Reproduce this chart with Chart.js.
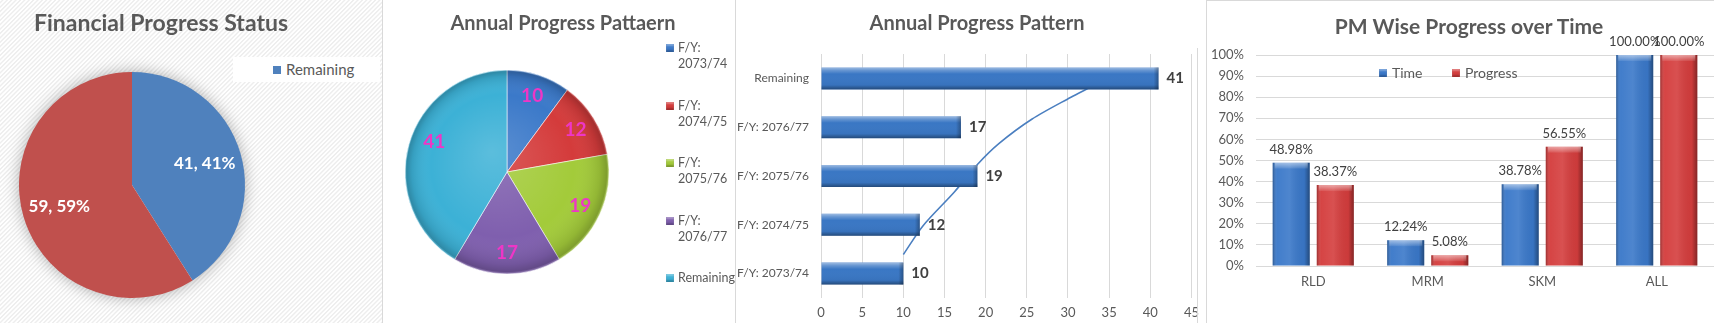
<!DOCTYPE html>
<html>
<head>
<meta charset="utf-8">
<title>Progress Dashboard</title>
<script src="https://cdn.jsdelivr.net/npm/chart.js@4.4.1/dist/chart.umd.min.js"></script>
<style>
  body { margin: 0; width: 1714px; height: 323px; overflow: hidden; background: #fff; font-family: Lato, "Open Sans", sans-serif; position: relative; }
  .panel { position: absolute; top: 0; height: 323px; }
  #p1 { left: 0; width: 382px; border-right: 1px solid #d9d9d9;
        background: repeating-linear-gradient(135deg, #ffffff 0px, #ffffff 1px, #eeeeee 1.6px, #eeeeee 2.4px, #ffffff 3.1px); }
  #p2 { left: 383px; width: 352px; border-right: 1px solid #d9d9d9; }
  #p3 { left: 736px; width: 470px; }
  #p4 { left: 1206px; width: 508px; border-left: 1px solid #d9d9d9; border-top: 1px solid #d9d9d9; height: 322px; }
  #p3line { position: absolute; left: 1197px; top: 48px; width: 1px; height: 275px; background: #d9d9d9; }
  canvas { position: absolute; left: 0; top: 0; }
  .title { position: absolute; font-weight: bold; color: #595959; white-space: nowrap; transform: translateX(-50%); line-height: 1; }
  .legend { position: absolute; color: #595959; font-size: 12.5px; }
  .sw { display: inline-block; width: 8px; height: 8px; margin-right: 5px; vertical-align: middle; position: relative; top: -1px; }
</style>
</head>
<body>

<div class="panel" id="p1">
  <canvas id="finChart" width="382" height="323"></canvas>
  <div class="title" style="left:161px; top:11px; font-size:23px;">Financial Progress Status</div>
  <div class="legend" id="finLegend" style="left:233px; top:57px; width:147px; height:25px; background:#fff; font-size:15px;"></div>
</div>

<div class="panel" id="p2">
  <canvas id="annualPie" width="352" height="323"></canvas>
  <div class="title" style="left:180px; top:12px; font-size:20px;">Annual Progress Pattaern</div>
  <div id="annualLegend"></div>
</div>

<div class="panel" id="p3">
  <canvas id="annualBar" width="470" height="323"></canvas>
  <div class="title" style="left:241px; top:12px; font-size:20px;">Annual Progress Pattern</div>
</div>
<div id="p3line"></div>

<div class="panel" id="p4">
  <canvas id="pmChart" width="508" height="322"></canvas>
  <div class="title" style="left:262px; top:14px; font-size:21px;">PM Wise Progress over Time</div>
  <div id="pmLegend"></div>
</div>

<script>
// financial status pie
const finLabels = ['Remaining', 'Spent'];
const finValues = [41, 59];
const finColors = ['#4f81bd', '#c0504d'];

// annual pattern (pie and bar)
const annualLabels = ['F/Y: 2073/74', 'F/Y: 2074/75', 'F/Y: 2075/76', 'F/Y: 2076/77', 'Remaining'];
const annualValues = [10, 12, 19, 17, 41];
const annualColors = ['#3b79c9', '#d43b3b', '#a3cb3a', '#7f5fae', '#3cb1d6'];

// trend curve over the bar chart: x value and row position (0 = bottom row)
const trendX = [10, 12.4, 16.2, 19, 21.6, 25.6, 30.3, 32.7];
const trendRow = [0.23, 0.88, 1.64, 2.26, 2.73, 3.28, 3.77, 4.0];

// PM wise progress, in percent
const pmLabels = ['RLD', 'MRM', 'SKM', 'ALL'];
const timeValues = [48.98, 12.24, 38.78, 100];
const progressValues = [38.37, 5.08, 56.55, 100];

const TEXT = '#595959';
const GRID = '#d9d9d9';
const FONT = 'Lato';

// text on pie slices, placed along each slice's middle angle
function makeSliceLabels(format, font, color, radius, shift) {
  return {
    id: 'sliceLabels',
    afterDatasetsDraw(chart) {
      const ctx = chart.ctx;
      const values = chart.data.datasets[0].data;
      const total = values.reduce((a, b) => a + b, 0);
      ctx.save();
      ctx.font = font;
      ctx.fillStyle = color;
      ctx.textAlign = 'center';
      ctx.textBaseline = 'middle';
      chart.getDatasetMeta(0).data.forEach((arc, i) => {
        const p = arc.getProps(['x', 'y', 'startAngle', 'endAngle', 'outerRadius'], true);
        const mid = (p.startAngle + p.endAngle) / 2;
        const r = p.outerRadius * radius;
        const s = (shift && shift[i]) || [0, 0];
        ctx.fillText(format(values[i], total), p.x + Math.cos(mid) * r + s[0], p.y + Math.sin(mid) * r + s[1]);
      });
      ctx.restore();
    }
  };
}

// soft glow behind the flat pie
const pieShadow = {
  id: 'pieShadow',
  beforeDatasetsDraw(chart) {
    const arc = chart.getDatasetMeta(0).data[0];
    if (!arc) return;
    const { x, y, outerRadius } = arc.getProps(['x', 'y', 'outerRadius'], true);
    const ctx = chart.ctx;
    ctx.save();
    ctx.shadowColor = 'rgba(0,0,0,0.35)';
    ctx.shadowBlur = 16;
    ctx.fillStyle = '#fff';
    ctx.beginPath();
    ctx.arc(x, y, outerRadius - 1, 0, Math.PI * 2);
    ctx.fill();
    ctx.restore();
  }
};

// rounded shading over the second pie
const pieDome = {
  id: 'pieDome',
  afterDatasetsDraw(chart) {
    const arc = chart.getDatasetMeta(0).data[0];
    const { x, y, outerRadius: r } = arc.getProps(['x', 'y', 'outerRadius'], true);
    const ctx = chart.ctx;
    const g = ctx.createRadialGradient(x - r * 0.15, y - r * 0.2, 0, x, y, r);
    g.addColorStop(0, 'rgba(255,255,255,0.16)');
    g.addColorStop(0.7, 'rgba(255,255,255,0)');
    g.addColorStop(0.92, 'rgba(0,0,0,0.1)');
    g.addColorStop(0.98, 'rgba(0,0,0,0.22)');
    g.addColorStop(1, 'rgba(255,255,255,0.3)');
    ctx.save();
    ctx.fillStyle = g;
    ctx.beginPath();
    ctx.arc(x, y, r, 0, Math.PI * 2);
    ctx.fill();
    ctx.restore();
  }
};

// bevel highlight on bars
const barBevel = {
  id: 'barBevel',
  afterDatasetsDraw(chart) {
    const ctx = chart.ctx;
    const horizontal = chart.options.indexAxis === 'y';
    chart.data.datasets.forEach((ds, di) => {
      const meta = chart.getDatasetMeta(di);
      if (meta.type !== 'bar') return;
      meta.data.forEach(el => {
        const p = el.getProps(['x', 'y', 'base', 'width', 'height'], true);
        let l, r, t, b;
        if (horizontal) {
          l = Math.min(p.base, p.x); r = Math.max(p.base, p.x);
          t = p.y - p.height / 2; b = p.y + p.height / 2;
        } else {
          l = p.x - p.width / 2; r = p.x + p.width / 2;
          t = Math.min(p.y, p.base); b = Math.max(p.y, p.base);
        }
        ctx.save();
        if (horizontal) {
          const g = ctx.createLinearGradient(0, t, 0, b);
          g.addColorStop(0, 'rgba(255,255,255,0.5)');
          g.addColorStop(0.14, 'rgba(255,255,255,0.22)');
          g.addColorStop(0.3, 'rgba(255,255,255,0)');
          g.addColorStop(0.8, 'rgba(0,0,0,0.04)');
          g.addColorStop(1, 'rgba(0,0,0,0.38)');
          ctx.fillStyle = g;
          ctx.fillRect(l, t, r - l, b - t);
          const e = ctx.createLinearGradient(r - 5, 0, r, 0);
          e.addColorStop(0, 'rgba(0,0,0,0)');
          e.addColorStop(1, 'rgba(0,0,0,0.3)');
          ctx.fillStyle = e;
          ctx.fillRect(r - 5, t, 5, b - t);
        } else {
          const g = ctx.createLinearGradient(l, 0, r, 0);
          g.addColorStop(0, 'rgba(0,0,0,0.28)');
          g.addColorStop(0.12, 'rgba(255,255,255,0.04)');
          g.addColorStop(0.45, 'rgba(255,255,255,0.1)');
          g.addColorStop(0.85, 'rgba(0,0,0,0.04)');
          g.addColorStop(1, 'rgba(0,0,0,0.38)');
          ctx.fillStyle = g;
          ctx.fillRect(l, t, r - l, b - t);
          const cap = Math.min(6, b - t);
          const c = ctx.createLinearGradient(0, t, 0, t + cap);
          c.addColorStop(0, 'rgba(255,255,255,0.5)');
          c.addColorStop(1, 'rgba(255,255,255,0.08)');
          ctx.fillStyle = c;
          ctx.fillRect(l + 2, t, r - l - 4, cap);
        }
        ctx.restore();
      });
    });
  }
};

// value text at the end of each bar
function makeBarValues(format, font, color, gap) {
  return {
    id: 'barValues',
    afterDatasetsDraw(chart) {
      const ctx = chart.ctx;
      const horizontal = chart.options.indexAxis === 'y';
      ctx.save();
      ctx.font = font;
      ctx.fillStyle = color;
      chart.data.datasets.forEach((ds, di) => {
        const meta = chart.getDatasetMeta(di);
        if (meta.type !== 'bar') return;
        meta.data.forEach((el, i) => {
          const p = el.getProps(['x', 'y'], true);
          if (horizontal) {
            ctx.textAlign = 'left'; ctx.textBaseline = 'middle';
            ctx.fillText(format(ds.data[i]), p.x + gap, p.y);
          } else {
            ctx.textAlign = 'center'; ctx.textBaseline = 'middle';
            ctx.fillText(format(ds.data[i]), p.x, p.y - gap);
          }
        });
      });
      ctx.restore();
    }
  };
}

const swShade = 'box-shadow: inset 0 2px 2px rgba(255,255,255,0.35), inset 0 -2px 2px rgba(0,0,0,0.25);';
function swatch(color) {
  return `<span class="sw" style="background:${color}; ${swShade}"></span>`;
}

// ---- Financial Progress Status ----
new Chart(document.getElementById('finChart'), {
  type: 'pie',
  data: { labels: finLabels, datasets: [{ data: finValues, backgroundColor: finColors, borderWidth: 0, hoverOffset: 0 }] },
  options: {
    responsive: false, animation: false, radius: 113,
    layout: { padding: { left: 19, right: 137, top: 72, bottom: 25 } },
    plugins: { legend: { display: false }, tooltip: { enabled: false } }
  },
  plugins: [pieShadow, makeSliceLabels((v, t) => `${v}, ${Math.round(v / t * 100)}%`, `bold 17px ${FONT}`, '#ffffff', 0.67)]
});
document.getElementById('finLegend').innerHTML =
  `<div style="position:absolute; left:40px; top:3px; white-space:nowrap;"><span class="sw" style="background:${finColors[0]}"></span>${finLabels[0]}</div>`;

// ---- Annual Progress Pattaern (pie) ----
new Chart(document.getElementById('annualPie'), {
  type: 'pie',
  data: { labels: annualLabels, datasets: [{ data: annualValues, backgroundColor: annualColors, borderColor: 'rgba(255,255,255,0.55)', borderWidth: 1, hoverOffset: 0 }] },
  options: {
    responsive: false, animation: false, radius: 102,
    layout: { padding: { left: 22, right: 126, top: 70, bottom: 49 } },
    plugins: { legend: { display: false }, tooltip: { enabled: false } }
  },
  plugins: [pieDome, makeSliceLabels(v => String(v), `bold 19px ${FONT}`, '#ee36c6', 0.79, { 4: [5, -9] })]
});
document.getElementById('annualLegend').innerHTML = annualLabels.map((lab, i) =>
  `<div class="legend" style="left:283px; top:${40 + i * 57.5}px; width:56px; line-height:16px; padding-left:12px;">` +
  `<span class="sw" style="position:absolute; left:0; top:4px; background:${annualColors[i]}; ${swShade}"></span>${lab}</div>`
).join('');

// ---- Annual Progress Pattern (horizontal bars) ----
const rowLabels = annualLabels.slice().reverse();
const rowValues = annualValues.slice().reverse();
new Chart(document.getElementById('annualBar'), {
  type: 'bar',
  data: {
    labels: rowLabels,
    datasets: [
      { type: 'bar', data: rowValues, backgroundColor: '#3a77c4', borderWidth: 0, grouped: false,
        barPercentage: 0.9, categoryPercentage: 0.5, xAxisID: 'x', yAxisID: 'y' },
      { type: 'scatter', indexAxis: 'x', data: trendX.map((x, i) => ({ x, y: trendRow[i] })), showLine: true,
        borderColor: '#4b7fc0', borderWidth: 1.6, pointRadius: 0, fill: false, tension: 0.3, xAxisID: 'x', yAxisID: 'yTrend' }
    ]
  },
  options: {
    indexAxis: 'y', responsive: false, animation: false,
    layout: { padding: { left: 0, right: 8, top: 54, bottom: 0 } },
    scales: {
      x: {
        type: 'linear', min: 0, max: 45,
        ticks: { stepSize: 5, color: TEXT, font: { family: FONT, size: 13 }, padding: 7 },
        grid: { color: GRID, drawTicks: false }, border: { display: false },
        afterFit(s) { s.height = 25; }
      },
      y: {
        type: 'category',
        ticks: { color: TEXT, font: { family: FONT, size: 12 }, padding: 12 },
        grid: { display: false, drawTicks: false }, border: { display: false },
        afterFit(s) { s.width = 85; }
      },
      yTrend: { type: 'linear', axis: 'y', display: false, min: -0.5, max: 4.5 }
    },
    plugins: { legend: { display: false }, tooltip: { enabled: false } }
  },
  plugins: [barBevel, makeBarValues(v => String(v), `bold 15px ${FONT}`, '#404040', 8)]
});

// ---- PM Wise Progress over Time ----
const pmColors = ['#3a78c9', '#d43d3d'];
new Chart(document.getElementById('pmChart'), {
  type: 'bar',
  data: {
    labels: pmLabels,
    datasets: [
      { label: 'Time', data: timeValues, backgroundColor: pmColors[0], borderWidth: 0, barPercentage: 0.84, categoryPercentage: 0.77 },
      { label: 'Progress', data: progressValues, backgroundColor: pmColors[1], borderWidth: 0, barPercentage: 0.84, categoryPercentage: 0.77 }
    ]
  },
  options: {
    responsive: false, animation: false,
    layout: { padding: { left: 0, right: 1, top: 54, bottom: 0 } },
    scales: {
      x: {
        ticks: { color: TEXT, font: { family: FONT, size: 13 }, padding: 8 },
        grid: { display: false, drawTicks: false }, border: { display: false },
        afterFit(s) { s.height = 57; }
      },
      y: {
        min: 0, max: 100,
        ticks: { stepSize: 10, color: TEXT, font: { family: FONT, size: 13 }, padding: 12, callback: v => v + '%' },
        grid: { color: GRID, drawTicks: false }, border: { display: false },
        afterFit(s) { s.width = 49; }
      }
    },
    plugins: { legend: { display: false }, tooltip: { enabled: false } }
  },
  plugins: [barBevel, makeBarValues(v => v.toFixed(2) + '%', `13px ${FONT}`, '#404040', 13)]
});
document.getElementById('pmLegend').innerHTML =
  `<div class="legend" style="left:172px; top:63px; white-space:nowrap; font-size:14px;">${swatch(pmColors[0])}Time</div>` +
  `<div class="legend" style="left:245px; top:63px; white-space:nowrap; font-size:14px;">${swatch(pmColors[1])}Progress</div>`;
</script>
</body>
</html>
